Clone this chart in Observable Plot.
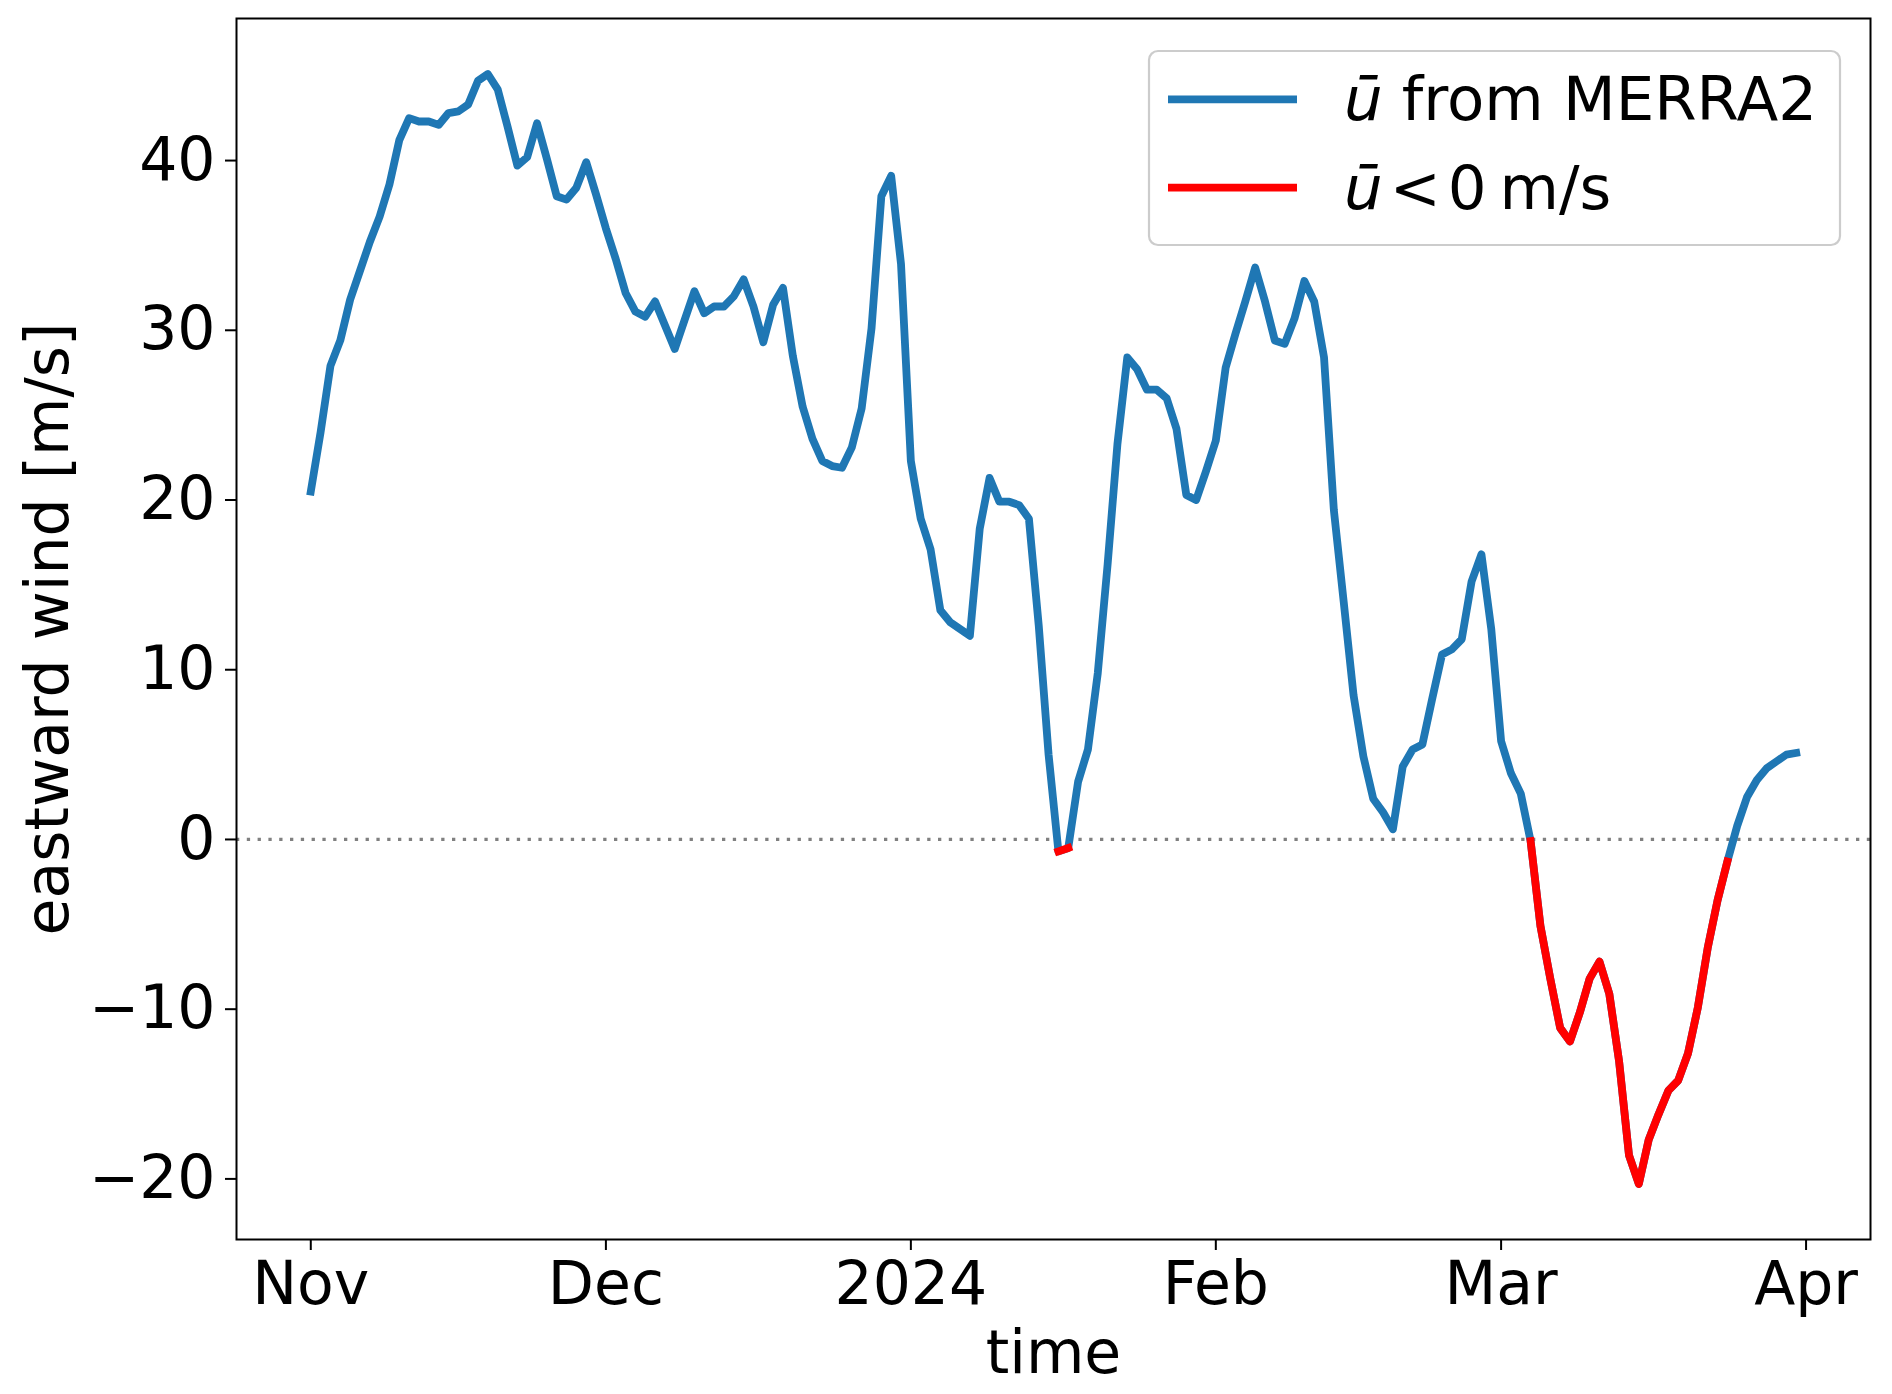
<!DOCTYPE html>
<html>
<head>
<meta charset="utf-8">
<script src="https://cdn.jsdelivr.net/npm/d3@7"></script>
<script src="https://cdn.jsdelivr.net/npm/@observablehq/plot@0.6"></script>
<style>
  html, body { margin: 0; padding: 0; background: #ffffff; }
  #chart { width: 1892px; height: 1394px; }
</style>
</head>
<body>
<div id="chart"></div>
<script>
// ---- data: daily zonal-mean eastward wind (m/s) ----
const novStart = "2023-11-01";
const novValues = [20.5, 24.0, 27.9, 29.4, 31.8, 33.5, 35.2, 36.7, 38.6, 41.2,
                   42.5, 42.3, 42.3, 42.1, 42.8, 42.9, 43.3, 44.7, 45.1, 44.2,
                   42.0, 39.7, 40.2, 42.2, 40.1, 37.9, 37.7, 38.4, 39.9, 38.0];
const decStart = "2023-12-01";
const decValues = [36.0, 34.2, 32.2, 31.1, 30.8, 31.7, 30.3, 28.9, 30.6, 32.3,
                   31.0, 31.4, 31.4, 32.0, 33.0, 31.4, 29.3, 31.5, 32.5, 28.5,
                   25.5, 23.6, 22.3, 22.0, 21.9, 23.1, 25.4, 30.1, 37.9, 39.1,
                   33.9];
const janStart = "2024-01-01";
const janValues = [22.3, 18.9, 17.1, 13.5, 12.8, 12.4, 12.0, 18.3, 21.3, 19.9,
                   19.9, 19.7, 18.9, 12.6, 5.0, -0.7, -0.5, 3.4, 5.3, 9.8,
                   16.2, 23.3, 28.4, 27.7, 26.5, 26.5, 26.0, 24.2, 20.3, 20.0,
                   21.7];
const febStart = "2024-02-01";
const febValues = [23.5, 27.8, 29.8, 31.7, 33.7, 31.7, 29.4, 29.2, 30.7, 32.9,
                   31.7, 28.4, 19.4, 14.0, 8.5, 4.9, 2.4, 1.6, 0.6, 4.3,
                   5.3, 5.6, 8.3, 10.9, 11.2, 11.8, 15.2, 16.8, 12.4];
const marStart = "2024-03-01";
const marValues = [5.8, 3.9, 2.7, -0.1, -5.1, -8.2, -11.1, -11.9, -10.2, -8.2,
                   -7.2, -9.1, -13.1, -18.6, -20.3, -17.7, -16.2, -14.8, -14.2, -12.6,
                   -9.9, -6.4, -3.6, -1.3, 0.8, 2.5, 3.5, 4.2, 4.6, 5.0,
                   5.1];

const xTickDates = ["2023-11-01", "2023-12-01", "2024-01-01", "2024-02-01", "2024-03-01", "2024-04-01"];
const xTickLabels = ["Nov", "Dec", "2024", "Feb", "Mar", "Apr"];
const yTicks = [-20, -10, 0, 10, 20, 30, 40];

const seriesLabel = ["from MERRA2"];
const negLabel = ["<", "0", "m/s"];
const xLabel = "time";
const yLabel = "eastward wind [m/s]";

// ---- build table ----
const parse = d3.utcParse("%Y-%m-%d");
const months = [[novStart, novValues], [decStart, decValues], [janStart, janValues], [febStart, febValues], [marStart, marValues]];
const data = months.flatMap(([s, vals]) => vals.map((u, i) => ({date: d3.utcDay.offset(parse(s), i), u})));

const tickDates = xTickDates.map(parse);
const tickLabelMap = new Map(tickDates.map((d, i) => [+d, xTickLabels[i]]));

const first = data[0].date, last = data[data.length - 1].date;
const span = last - first;
const xDomain = [new Date(+first - 0.05 * span), new Date(+last + 0.05 * span)];
const yExt = d3.extent(data, d => d.u);
const yPad = 0.05 * (yExt[1] - yExt[0]);
const yDomain = [yExt[0] - yPad, yExt[1] + yPad];

const BLUE = "#1f77b4", RED = "#ff0000";
const LW = 7.8;

const plot = Plot.plot({
  width: 1892,
  height: 1394,
  marginLeft: 236,
  marginRight: 22,
  marginTop: 18,
  marginBottom: 155,
  style: {fontFamily: "DejaVu Sans", fontSize: "60px", background: "#ffffff", color: "#000000", overflow: "visible"},
  x: {type: "utc", domain: xDomain},
  y: {domain: yDomain},
  marks: [
    Plot.ruleY([0], {stroke: "#808080", strokeWidth: 3.3, strokeDasharray: "3.3,7.5"}),
    Plot.line(data, {x: "date", y: "u", stroke: BLUE, strokeWidth: LW, strokeLinecap: "square", strokeLinejoin: "round"}),
    Plot.line(data, {x: "date", y: d => (d.u < 0 ? d.u : NaN), stroke: RED, strokeWidth: LW, strokeLinecap: "square", strokeLinejoin: "round"}),
    Plot.frame({stroke: "#000000", strokeWidth: 2}),
    Plot.axisX({
      ticks: tickDates,
      tickFormat: d => tickLabelMap.get(+d),
      tickSize: 11, tickPadding: 11, strokeWidth: 2,
      label: xLabel, labelAnchor: "center", labelArrow: "none", labelOffset: 133
    }),
    Plot.axisY({
      ticks: yTicks,
      tickFormat: d => (d < 0 ? "\u2212" + Math.abs(d) : String(d)),
      tickSize: 11, tickPadding: 10, strokeWidth: 2,
      label: yLabel, labelAnchor: "center", labelArrow: "none", labelOffset: 211
    })
  ]
});

document.getElementById("chart").appendChild(plot);

// ---- legend (inside the axes, upper right) ----
const svg = d3.select(plot);
const lg = svg.append("g").attr("font-family", "DejaVu Sans").attr("font-size", 61).attr("text-anchor", "start");
lg.append("rect")
  .attr("x", 1149).attr("y", 51).attr("width", 691).attr("height", 194)
  .attr("rx", 9).attr("ry", 9)
  .attr("fill", "#ffffff").attr("fill-opacity", 0.8)
  .attr("stroke", "#cccccc").attr("stroke-width", 2.2);
const rows = [
  {color: BLUE, y: 99.3, parts: seriesLabel, gaps: [19]},
  {color: RED, y: 187.7, parts: negLabel, gaps: [7, 7, 13]}
];
rows.forEach(r => {
  lg.append("line")
    .attr("x1", 1168).attr("x2", 1297).attr("y1", r.y).attr("y2", r.y)
    .attr("stroke", r.color).attr("stroke-width", LW);
  const t = lg.append("text").attr("x", 1344).attr("y", r.y + 21).attr("fill", "#000000").attr("text-anchor", "start");
  t.append("tspan").attr("font-style", "italic").text("\u016B");
  r.parts.forEach((p, i) => t.append("tspan").attr("dx", r.gaps[i]).text(p));
});
</script>
</body>
</html>
